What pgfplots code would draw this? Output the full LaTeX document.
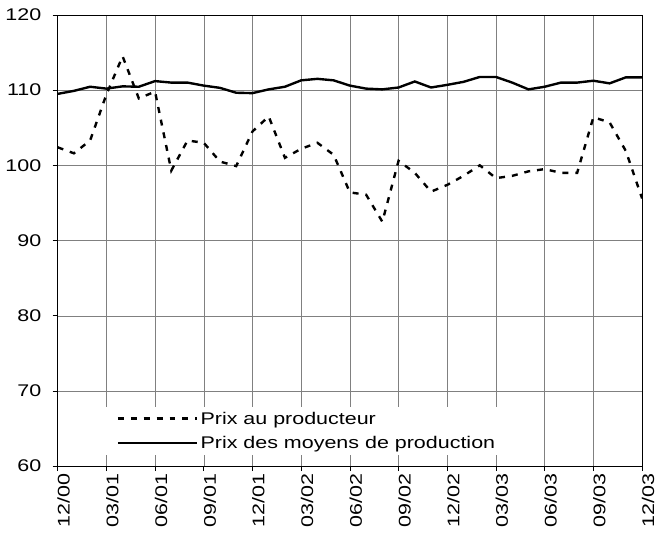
\documentclass[border=0pt]{standalone}
\usepackage{pgfplots}
\pgfplotsset{compat=1.18}
\usepackage{fontspec}
\setmainfont{Liberation Sans}[FakeStretch=1.27]
\begin{document}
\begin{tikzpicture}
\begin{axis}[
  at={(0pt,0pt)}, anchor=origin,
  width=588pt, height=454pt, scale only axis=true,
  xmin=0, xmax=36, ymin=60, ymax=120,
  xtick={0,3,...,36},
  xticklabels={12/00,03/01,06/01,09/01,12/01,03/02,06/02,09/02,12/02,03/03,06/03,09/03,12/03},
  ytick={60,70,...,120},
  /pgf/number format/assume math mode=true,
  tick label style={font=\fontsize{17}{20}\selectfont},
  xticklabel style={rotate=90, anchor=east, yshift=-6pt, inner sep=2pt},
  yticklabel style={xshift=-8pt},
  grid=major,
  major grid style={black!50, line width=0.5pt},
  axis line style={black, line width=0.7pt},
  tick align=outside, major tick length=5pt,
  tick style={black, line width=0.6pt},
  xtick pos=bottom, ytick pos=left,
  legend style={at={(0.07,0.024)}, anchor=south west, draw=none, fill=white,
    font=\fontsize{17}{20}\selectfont, row sep=7pt, inner xsep=18pt, inner ysep=3pt},
  legend cell align=left,
  legend image code/.code={\draw[#1] (0pt,0pt) -- (80pt,0pt);},
]
\addplot[black, line width=2.4pt, dash pattern=on 6pt off 7pt] coordinates {
(0,102.4) (1,101.6) (2,103.3) (3,109.4) (4,114.5) (5,108.9) (6,109.8) (7,99.3) (8,103.3) (9,103.0) (10,100.5) (11,99.9) (12,104.5)
(13,106.5) (14,101.0) (15,102.2) (16,103.0) (17,101.4) (18,96.4) (19,96.1) (20,92.5) (21,100.6) (22,99.0) (23,96.5) (24,97.4)
(25,98.6) (26,100.0) (27,98.3) (28,98.6) (29,99.2) (30,99.5) (31,99.0) (32,99.0) (33,106.4) (34,105.7) (35,101.9) (36,95.6)
};
\addlegendentry{Prix au producteur}
\addplot[black, line width=2.4pt] coordinates {
(0,109.5) (1,109.9) (2,110.45) (3,110.2) (4,110.5) (5,110.45) (6,111.2) (7,111.0) (8,111.0) (9,110.6) (10,110.3) (11,109.65) (12,109.6)
(13,110.1) (14,110.45) (15,111.3) (16,111.5) (17,111.3) (18,110.6) (19,110.2) (20,110.1) (21,110.35) (22,111.15) (23,110.35) (24,110.7)
(25,111.1) (26,111.75) (27,111.75) (28,111.0) (29,110.1) (30,110.45) (31,111.0) (32,111.0) (33,111.25) (34,110.9) (35,111.7) (36,111.7)
};
\addlegendentry{Prix des moyens de production}
\end{axis}
\pgfresetboundingbox
\path (-58pt,-73pt) rectangle (603pt,469pt);
\end{tikzpicture}
\end{document}
